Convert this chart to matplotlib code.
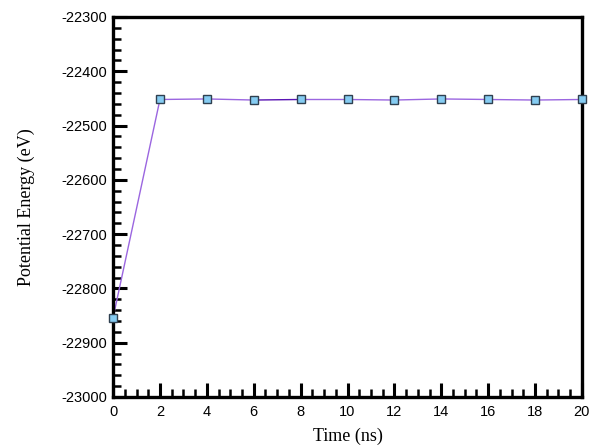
import matplotlib.pyplot as plt
from matplotlib.ticker import MultipleLocator

plt.rcParams['axes.unicode_minus'] = False

time_ns = [0, 2, 4, 6, 8, 10, 12, 14, 16, 18, 20]
energy_ev = [-22854, -22452, -22451, -22453, -22452, -22452,
             -22453, -22451, -22452, -22453, -22452]

fig = plt.figure(figsize=(5.92, 4.47), dpi=100)
ax = fig.add_axes([0.191, 0.112, 0.792, 0.850])

# connecting lines, one segment at a time
for i in range(len(time_ns) - 1):
    col = '#5a14b4' if time_ns[i] == 6 else '#9b66e0'
    ax.plot(time_ns[i:i + 2], energy_ev[i:i + 2], color=col, lw=1.0, zorder=2)
ax.plot(time_ns, energy_ev, ls='none', marker='s', ms=5.3,
        mfc='#85ccf2', mec='#2f4050', mew=1.0, zorder=3, clip_on=False)

ax.set_xlim(0, 20)
ax.set_ylim(-23000, -22300)
ax.xaxis.set_major_locator(MultipleLocator(2))
ax.xaxis.set_minor_locator(MultipleLocator(0.5))
ax.yaxis.set_major_locator(MultipleLocator(100))
ax.yaxis.set_minor_locator(MultipleLocator(20))

for s in ax.spines.values():
    s.set_linewidth(2.4)
ax.tick_params(which='both', direction='in', top=False, right=False,
               labelsize=10.5)
ax.tick_params(axis='x', pad=6)
ax.tick_params(axis='y', pad=4)
ax.tick_params(which='major', length=10, width=2.2)
ax.tick_params(which='minor', length=6, width=1.8)
for lab in ax.get_xticklabels() + ax.get_yticklabels():
    lab.set_family('Liberation Sans')

ax.set_xlabel('Time (ns)', family='Liberation Serif', fontsize=13, labelpad=6)
ax.set_ylabel('Potential Energy (eV)', family='Liberation Serif', fontsize=13,
              labelpad=19)

fig.savefig('out.png', dpi=100)
